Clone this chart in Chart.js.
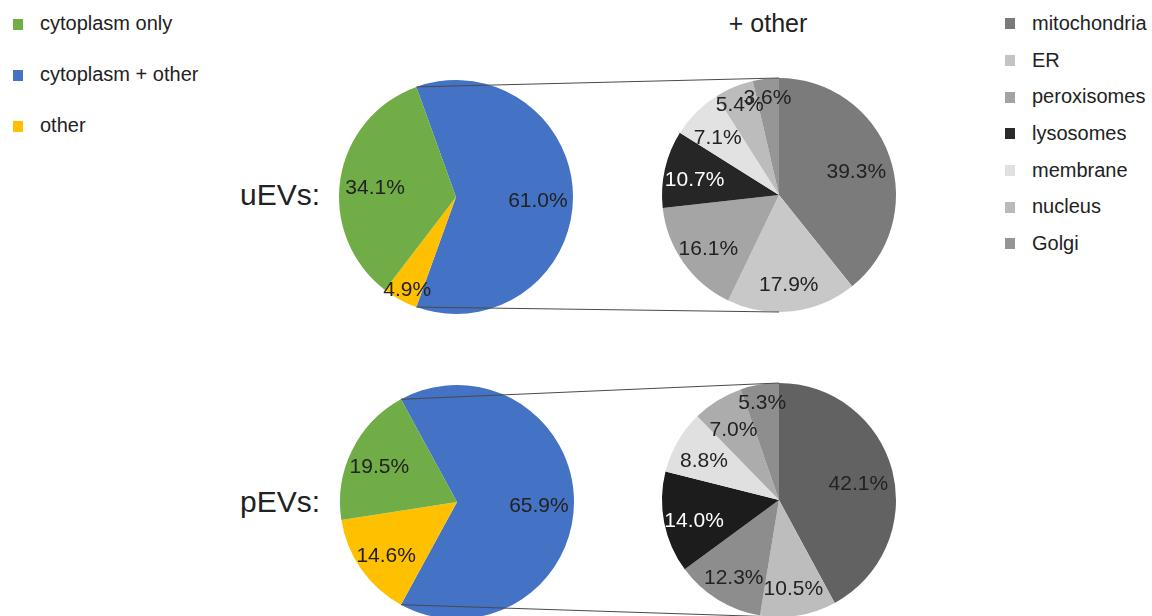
<!DOCTYPE html>
<html><head><meta charset="utf-8">
<script src="https://cdn.jsdelivr.net/npm/chart.js@4/dist/chart.umd.min.js"></script>
<style>
html,body{margin:0;padding:0;background:#fff;width:1152px;height:616px;overflow:hidden;font-family:"Liberation Sans",Arial,sans-serif;color:#222;}
#wrap{position:relative;width:1152px;height:616px;}
canvas.pie{position:absolute;}
#overlay{position:absolute;left:0;top:0;pointer-events:none;}
.txt{position:absolute;white-space:nowrap;}
.legend{position:absolute;margin:0;padding:0;list-style:none;font-size:20px;}
.legend li{position:relative;height:var(--row);line-height:var(--row);padding-left:var(--pad);}
.legend li span.sw{position:absolute;left:var(--swl);top:50%;width:10px;height:11px;margin-top:-5px;}
</style></head>
<body>
<div id="wrap">
  <ul class="legend" id="legLeft" style="left:0;top:-2px;--row:51px;--pad:40px;--swl:13px;"></ul>
  <ul class="legend" id="legRight" style="left:992px;top:5px;--row:36.7px;--pad:40px;--swl:13px;"></ul>
  <div class="txt" style="left:700px;top:8px;width:136px;text-align:center;font-size:25px;line-height:30px;">+ other</div>
  <div class="txt" style="left:120px;top:177px;width:200px;text-align:right;font-size:30px;line-height:36px;">uEVs:</div>
  <div class="txt" style="left:120px;top:484px;width:200px;text-align:right;font-size:30px;line-height:36px;">pEVs:</div>
  <canvas class="pie" id="uMain" width="260" height="260" style="left:326px;top:67px;"></canvas>
  <canvas class="pie" id="uOther" width="260" height="260" style="left:649px;top:65px;"></canvas>
  <canvas class="pie" id="pMain" width="260" height="260" style="left:327px;top:372px;"></canvas>
  <canvas class="pie" id="pOther" width="260" height="260" style="left:649px;top:370px;"></canvas>
  <canvas id="overlay" width="1152" height="616"></canvas>
</div>
<script>
// ---- data ----
const mainCategories = ['cytoplasm only', 'cytoplasm + other', 'other'];
const mainColors = ['#70ad47', '#4472c4', '#ffc000'];
const uEVsMain = [34.1, 61.0, 4.9];
const pEVsMain = [19.5, 65.9, 14.6];
// drawing order clockwise from the break-out slice
const mainDrawOrder = [1, 2, 0];

const otherCategories = ['mitochondria', 'ER', 'peroxisomes', 'lysosomes', 'membrane', 'nucleus', 'Golgi'];
const otherLegendColors = ['#7a7a7a', '#c4c4c4', '#a3a3a3', '#2a2a2a', '#e0e0e0', '#bababa', '#959595'];
const uEVsOtherColors = ['#7b7b7b', '#c8c8c8', '#a5a5a5', '#262626', '#e2e2e2', '#bcbcbc', '#969696'];
const pEVsOtherColors = ['#626262', '#bdbdbd', '#8d8d8d', '#1c1c1c', '#e0e0e0', '#acacac', '#8e8e8e'];
const uEVsOther = [39.3, 17.9, 16.1, 10.7, 7.1, 5.4, 3.6];
const pEVsOther = [42.1, 10.5, 12.3, 14.0, 8.8, 7.0, 5.3];

// ---- legends ----
function buildLegend(id, names, colors){
  const ul = document.getElementById(id);
  names.forEach((n,i)=>{
    const li = document.createElement('li');
    const sw = document.createElement('span'); sw.className='sw'; sw.style.background = colors[i];
    li.appendChild(sw); li.appendChild(document.createTextNode(n));
    ul.appendChild(li);
  });
}
buildLegend('legLeft', mainCategories, mainColors);
buildLegend('legRight', otherCategories, otherLegendColors);

// ---- slice label plugin ----
const sliceLabels = {
  id: 'sliceLabels',
  afterDatasetsDraw(chart){
    const ctx = chart.ctx;
    const meta = chart.getDatasetMeta(0);
    const ds = chart.data.datasets[0];
    ctx.save();
    ctx.font = '21px "Liberation Sans", Arial, sans-serif';
    ctx.textAlign = 'center';
    ctx.textBaseline = 'middle';
    meta.data.forEach((arc, i)=>{
      const p = arc.getProps(['x','y','startAngle','endAngle','outerRadius'], true);
      const mid = (p.startAngle + p.endAngle)/2;
      const v = ds.data[i];
      const f = v < 6 ? 0.87 : (v > 30 ? 0.7 : 0.74);
      ctx.fillStyle = (ds.labelColors && ds.labelColors[i]) || '#222';
      ctx.fillText(v.toFixed(1) + '%', p.x + Math.cos(mid)*p.outerRadius*f, p.y + 4 + Math.sin(mid)*p.outerRadius*f);
    });
    ctx.restore();
  }
};

function makePie(id, data, colors, rotation, labelColors){
  return new Chart(document.getElementById(id), {
    type: 'pie',
    data: { labels: data.map((_,i)=>String(i)), datasets: [{ data, backgroundColor: colors, borderWidth: 0, labelColors }] },
    options: {
      responsive: false, animation: false, radius: 117, rotation,
      layout: { padding: 0 },
      plugins: { legend: { display: false }, tooltip: { enabled: false } }
    },
    plugins: [sliceLabels]
  });
}

function mainPie(id, values){
  const data = mainDrawOrder.map(i=>values[i]);
  const colors = mainDrawOrder.map(i=>mainColors[i]);
  const rotation = 90 - data[0]*3.6/2; // centre the break-out slice on the right
  return makePie(id, data, colors, rotation, null);
}
const otherLabelColors = ['#222','#222','#222','#fff','#222','#222','#222'];

const uMain = mainPie('uMain', uEVsMain);
const pMain = mainPie('pMain', pEVsMain);
const uOther = makePie('uOther', uEVsOther, uEVsOtherColors, 0, otherLabelColors);
const pOther = makePie('pOther', pEVsOther, pEVsOtherColors, 0, otherLabelColors);

// ---- connector lines ----
function offsetOf(chart){
  const c = chart.canvas; return { x: c.offsetLeft, y: c.offsetTop };
}
function connect(left, right){
  const ctx = document.getElementById('overlay').getContext('2d');
  const la = left.getDatasetMeta(0).data[0].getProps(['x','y','startAngle','endAngle','outerRadius'], true);
  const ra = right.getDatasetMeta(0).data[0].getProps(['x','y','outerRadius'], true);
  const lo = offsetOf(left), ro = offsetOf(right);
  const p1 = { x: lo.x + la.x + Math.cos(la.startAngle)*la.outerRadius, y: lo.y + la.y + Math.sin(la.startAngle)*la.outerRadius };
  const p2 = { x: lo.x + la.x + Math.cos(la.endAngle)*la.outerRadius, y: lo.y + la.y + Math.sin(la.endAngle)*la.outerRadius };
  const q1 = { x: ro.x + ra.x, y: ro.y + ra.y - ra.outerRadius };
  const q2 = { x: ro.x + ra.x, y: ro.y + ra.y + ra.outerRadius };
  ctx.save();
  ctx.strokeStyle = '#4a4a4a'; ctx.lineWidth = 1;
  ctx.beginPath(); ctx.moveTo(p1.x, p1.y); ctx.lineTo(q1.x, q1.y);
  ctx.moveTo(p2.x, p2.y); ctx.lineTo(q2.x, q2.y); ctx.stroke();
  ctx.restore();
}
connect(uMain, uOther);
connect(pMain, pOther);
</script>
</body></html>
